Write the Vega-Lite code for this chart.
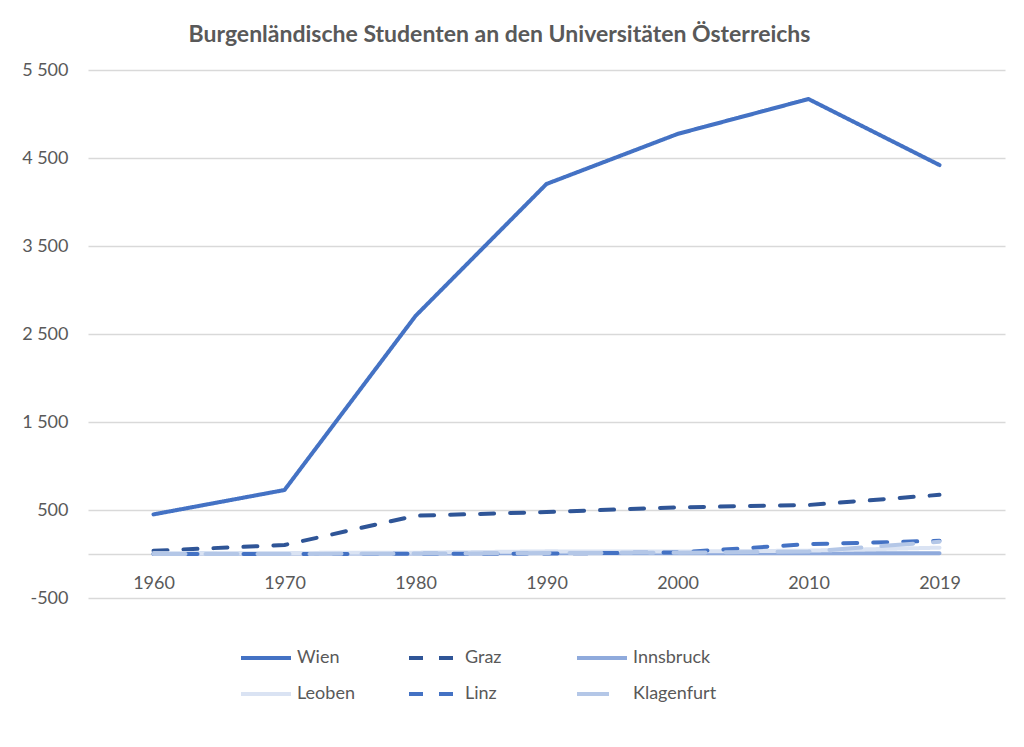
{
  "$schema": "https://vega.github.io/schema/vega-lite/v6.json",
  "width": 917,
  "height": 528,
  "autosize": "none",
  "padding": {"left": 88, "top": 70, "right": 19, "bottom": 149},
  "background": "white",
  "title": {
    "text": "Burgenländische Studenten an den Universitäten Österreichs",
    "font": "Lato",
    "fontSize": 23,
    "fontWeight": "bold",
    "color": "#595959",
    "dx": -47,
    "offset": 14
  },
  "config": {"view": {"stroke": null}},
  "data": {
    "values": [
      {"year": "1960", "uni": "Wien", "value": 450},
      {"year": "1970", "uni": "Wien", "value": 727},
      {"year": "1980", "uni": "Wien", "value": 2705},
      {"year": "1990", "uni": "Wien", "value": 4205},
      {"year": "2000", "uni": "Wien", "value": 4773},
      {"year": "2010", "uni": "Wien", "value": 5170},
      {"year": "2019", "uni": "Wien", "value": 4420},
      {"year": "1960", "uni": "Graz", "value": 37},
      {"year": "1970", "uni": "Graz", "value": 102},
      {"year": "1980", "uni": "Graz", "value": 435},
      {"year": "1990", "uni": "Graz", "value": 477},
      {"year": "2000", "uni": "Graz", "value": 530},
      {"year": "2010", "uni": "Graz", "value": 557},
      {"year": "2019", "uni": "Graz", "value": 672},
      {"year": "1960", "uni": "Innsbruck", "value": 4},
      {"year": "1970", "uni": "Innsbruck", "value": 5},
      {"year": "1980", "uni": "Innsbruck", "value": 6},
      {"year": "1990", "uni": "Innsbruck", "value": 8},
      {"year": "2000", "uni": "Innsbruck", "value": 8},
      {"year": "2010", "uni": "Innsbruck", "value": 9},
      {"year": "2019", "uni": "Innsbruck", "value": 8},
      {"year": "1960", "uni": "Leoben", "value": 8},
      {"year": "1970", "uni": "Leoben", "value": 12},
      {"year": "1980", "uni": "Leoben", "value": 15},
      {"year": "1990", "uni": "Leoben", "value": 30},
      {"year": "2000", "uni": "Leoben", "value": 28},
      {"year": "2010", "uni": "Leoben", "value": 38},
      {"year": "2019", "uni": "Leoben", "value": 72},
      {"year": "1960", "uni": "Linz", "value": 0},
      {"year": "1970", "uni": "Linz", "value": 0},
      {"year": "1980", "uni": "Linz", "value": 2},
      {"year": "1990", "uni": "Linz", "value": 5},
      {"year": "2000", "uni": "Linz", "value": 18},
      {"year": "2010", "uni": "Linz", "value": 112},
      {"year": "2019", "uni": "Linz", "value": 150},
      {"year": "1960", "uni": "Klagenfurt", "value": 0},
      {"year": "1970", "uni": "Klagenfurt", "value": 0},
      {"year": "1980", "uni": "Klagenfurt", "value": 5},
      {"year": "1990", "uni": "Klagenfurt", "value": 10},
      {"year": "2000", "uni": "Klagenfurt", "value": 15},
      {"year": "2010", "uni": "Klagenfurt", "value": 28},
      {"year": "2019", "uni": "Klagenfurt", "value": 140}
    ]
  },
  "mark": {"type": "line", "strokeWidth": 4, "strokeCap": "round", "strokeJoin": "round"},
  "encoding": {
    "x": {
      "field": "year",
      "type": "ordinal",
      "scale": {"type": "point", "padding": 0.5},
      "axis": {
        "title": null,
        "labelAngle": 0,
        "offset": -44,
        "domainColor": "#D9D9D9",
        "domainWidth": 1.5,
        "ticks": false,
        "grid": false,
        "labelPadding": 20,
        "labelFont": "Lato",
        "labelFontSize": 18,
        "labelColor": "#595959"
      }
    },
    "y": {
      "field": "value",
      "type": "quantitative",
      "scale": {"domain": [-500, 5500], "nice": false, "zero": false},
      "axis": {
        "title": null,
        "values": [-500, 500, 1500, 2500, 3500, 4500, 5500],
        "labelExpr": "datum.value < 0 ? '-' + replace(format(-datum.value, ','), ',', ' ') : replace(format(datum.value, ','), ',', ' ')",
        "ticks": false,
        "domain": false,
        "labelPadding": 20,
        "labelFont": "Lato",
        "labelFontSize": 18,
        "labelColor": "#595959",
        "gridColor": "#D9D9D9",
        "gridWidth": 1.5
      }
    },
    "color": {
      "field": "uni",
      "type": "nominal",
      "scale": {
        "domain": ["Wien", "Graz", "Innsbruck", "Leoben", "Linz", "Klagenfurt"],
        "range": ["#4472C4", "#2F5597", "#8FAADC", "#DAE3F3", "#4472C4", "#B4C7E7"]
      },
      "legend": {
        "title": null,
        "orient": "none",
        "legendX": 151,
        "legendY": 561,
        "direction": "horizontal",
        "columns": 3,
        "gridAlign": "all",
        "columnPadding": 20,
        "rowPadding": 0,
        "symbolType": "stroke",
        "symbolSize": 2500,
        "symbolStrokeWidth": 4,
        "labelOffset": 4,
        "labelFont": "Lato",
        "labelFontSize": 18,
        "labelColor": "#595959",
        "labelLimit": 200
      }
    },
    "strokeDash": {
      "field": "uni",
      "type": "nominal",
      "scale": {
        "domain": ["Wien", "Graz", "Innsbruck", "Leoben", "Linz", "Klagenfurt"],
        "range": [[1, 0], [14, 16], [1, 0], [1, 0], [14, 16], [32, 20]]
      }
    }
  }
}
